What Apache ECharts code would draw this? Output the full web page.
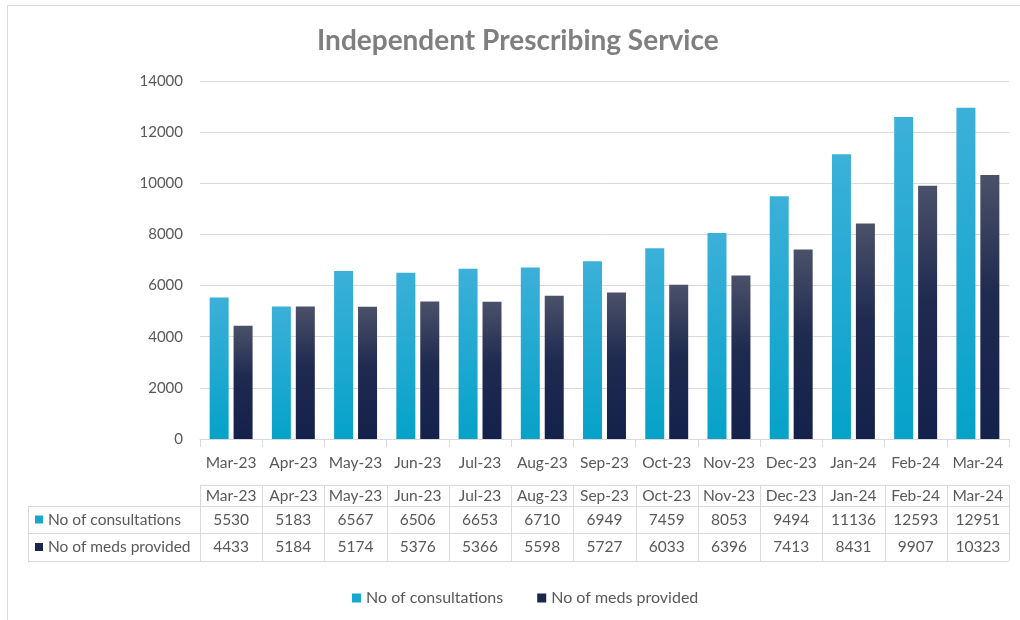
<!DOCTYPE html>
<html>
<head>
<meta charset="utf-8">
<script src="https://cdn.jsdelivr.net/npm/echarts@6/dist/echarts.min.js"></script>
<style>
html,body{margin:0;padding:0;background:#fff;}
#chart{width:1020px;height:620px;}
</style>
</head>
<body>
<div id="chart"></div>
<script>
const categories = ['Mar-23','Apr-23','May-23','Jun-23','Jul-23','Aug-23','Sep-23','Oct-23','Nov-23','Dec-23','Jan-24','Feb-24','Mar-24'];
const seriesNames = ['No of consultations', 'No of meds provided'];
const consultations = [5530,5183,6567,6506,6653,6710,6949,7459,8053,9494,11136,12593,12951];
const medsProvided = [4433,5184,5174,5376,5366,5598,5727,6033,6396,7413,8431,9907,10323];

const FONT = 'Lato, "Open Sans", sans-serif';
const TXT = '#595959';
const BORDER = '#d9d9d9';
const FS = 15.5;
const AXIS_Y = 439;
const ROW_TOP = 485, ROW1 = 506, ROW2 = 533, ROW_BOT = 561;
const LABEL_LEFT = 28;

const c1 = new echarts.graphic.LinearGradient(0,0,0,1,[{offset:0,color:'#3cb0d9'},{offset:1,color:'#05a2c8'}]);
const c2 = new echarts.graphic.LinearGradient(0,0,0,1,[{offset:0,color:'#4b5169'},{offset:0.45,color:'#1f2a50'},{offset:1,color:'#14214a'}]);

function rowAxis(data, centerY) {
  return {
    type: 'category', data: data, position: 'bottom', offset: centerY - AXIS_Y,
    gridIndex: 0,
    axisLine: {show:false}, axisTick: {show:false}, splitLine: {show:false},
    axisLabel: {interval:0, margin:0, verticalAlign:'middle', color:TXT, fontFamily:FONT, fontSize:FS}
  };
}

const chart = echarts.init(document.getElementById('chart'), null, {renderer:'canvas'});
const option = {
  animation: false,
  backgroundColor: '#fff',
  title: {
    text: 'Independent Prescribing Service', left: 312, top: 22,
    textStyle: {fontFamily: FONT, fontSize: 28, fontWeight: 'bold', color: '#7f7f7f'}
  },
  legend: {
    bottom: 9, left: 347, itemWidth: 9, itemHeight: 9, itemGap: 34, icon: 'rect',
    textStyle: {fontFamily: FONT, fontSize: 16, color: TXT},
    data: [
      {name: seriesNames[0], itemStyle: {color: '#17a8d1'}},
      {name: seriesNames[1], itemStyle: {color: '#1b264c'}}
    ]
  },
  grid: {left: 200, right: 11, top: 81, bottom: 620 - AXIS_Y, containLabel: false},
  xAxis: [
    {
      type: 'category', data: categories, position: 'bottom',
      axisLine: {show: true, lineStyle: {color: BORDER}},
      axisTick: {show: true, length: 8, lineStyle: {color: BORDER}},
      axisLabel: {interval: 0, margin: 24, verticalAlign: 'middle', color: TXT, fontFamily: FONT, fontSize: FS}
    },
    rowAxis(categories, (ROW_TOP + ROW1) / 2),
    rowAxis(consultations.map(String), (ROW1 + ROW2) / 2),
    rowAxis(medsProvided.map(String), (ROW2 + ROW_BOT) / 2)
  ],
  yAxis: {
    type: 'value', min: 0, max: 14000, interval: 2000,
    axisLine: {show: false}, axisTick: {show: false},
    splitLine: {lineStyle: {color: BORDER}},
    axisLabel: {margin: 17, color: TXT, fontFamily: FONT, fontSize: 15, formatter: v => String(v)}
  },
  series: [
    {
      name: seriesNames[0], type: 'bar', data: consultations, xAxisIndex: 0,
      barWidth: 19, barGap: '26%',
      itemStyle: {color: c1, shadowBlur: 3, shadowColor: 'rgba(0,0,0,0.35)', shadowOffsetX: 1, shadowOffsetY: 1}
    },
    {
      name: seriesNames[1], type: 'bar', data: medsProvided, xAxisIndex: 0,
      barWidth: 19, barGap: '26%',
      itemStyle: {color: c2, shadowBlur: 3, shadowColor: 'rgba(0,0,0,0.35)', shadowOffsetX: 1, shadowOffsetY: 1}
    }
  ]
};
chart.setOption(option);

// Table borders computed from the category axis
const x0 = chart.convertToPixel({xAxisIndex: 0}, 0);
const x1 = chart.convertToPixel({xAxisIndex: 0}, 1);
const band = x1 - x0;
const leftEdge = x0 - band / 2;
const rightEdge = leftEdge + band * categories.length;
const g = [];
const ls = {stroke: BORDER, lineWidth: 1};
function hline(xa, xb, y){ g.push({type:'line', shape:{x1:xa, y1:y+0.5, x2:xb, y2:y+0.5}, style:ls, silent:true}); }
function vline(x, ya, yb){ g.push({type:'line', shape:{x1:Math.round(x)+0.5, y1:ya, x2:Math.round(x)+0.5, y2:yb}, style:ls, silent:true}); }
hline(leftEdge, rightEdge, ROW_TOP);
hline(LABEL_LEFT, rightEdge, ROW1);
hline(LABEL_LEFT, rightEdge, ROW2);
hline(LABEL_LEFT, rightEdge, ROW_BOT);
for (let i = 0; i <= categories.length; i++) vline(leftEdge + band * i, ROW_TOP, ROW_BOT);
vline(LABEL_LEFT, ROW1, ROW_BOT);
const rowColors = ['#17a8d1', '#1b264c'];
const rowMid = [(ROW1 + ROW2) / 2, (ROW2 + ROW_BOT) / 2];
for (let r = 0; r < 2; r++) {
  g.push({type:'rect', shape:{x:35, y:rowMid[r]-4, width:8, height:8}, style:{fill:rowColors[r]}, silent:true});
  g.push({type:'text', x:48, y:rowMid[r], style:{text:seriesNames[r], fill:TXT, font:FS + 'px ' + FONT, textVerticalAlign:'middle', verticalAlign:'middle'}, silent:true});
}
// outer frame
g.push({type:'rect', shape:{x:7.5, y:5.5, width:1020, height:620}, style:{fill:'none', stroke:BORDER, lineWidth:1}, silent:true, z:-1});
chart.setOption({graphic: {elements: g}});
</script>
</body>
</html>
